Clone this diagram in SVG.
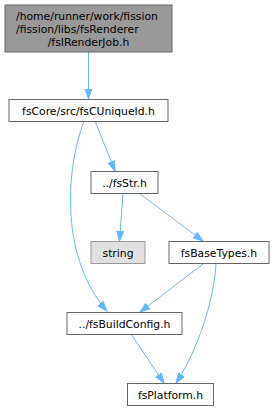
<svg xmlns="http://www.w3.org/2000/svg" width="275" height="411" viewBox="0 0 275 411">
<style>
.n rect{fill:#ffffff;stroke:#666666;stroke-width:1}
.n text{font-family:"DejaVu Sans",sans-serif;font-size:10.8px;fill:#000000;text-anchor:middle}
#n0 rect{fill:#999999;stroke:#666666}
#n3 rect{fill:#e0e0e0;stroke:#999999}
#edges path{fill:none;stroke:#63b8ff;stroke-width:1;marker-end:url(#a)}
</style>
<defs>
<marker id="a" markerWidth="11" markerHeight="9" refX="10" refY="4.5" orient="auto" markerUnits="userSpaceOnUse">
<path d="M0,1 L10,4.5 L0,8 z" fill="#63b8ff" stroke="#63b8ff" stroke-width="1"/>
</marker>
</defs>
<g id="edges">
<path d="M88.5,52 L88.5,99"/>
<path d="M95,121 L115,171"/>
<path d="M84,121 C64,175 62,260 107,311"/>
<path d="M123,193 L119.5,241"/>
<path d="M139,193 L203,241"/>
<path d="M203,264 L140,312"/>
<path d="M216,264 C214,300 198,350 176,383"/>
<path d="M131,334 L164,383"/>
</g>
<g id="n0" class="n">
<rect x="5" y="5" width="167" height="47"/>
<text x="16" y="20" style="text-anchor:start">/home/runner/work/fission</text>
<text x="16" y="33" style="text-anchor:start">/fission/libs/fsRenderer</text>
<text x="88.5" y="46">/fsIRenderJob.h</text>
</g>
<g id="n1" class="n">
<rect x="9" y="99.5" width="159" height="22"/>
<text x="88.5" y="114.5">fsCore/src/fsCUniqueId.h</text>
</g>
<g id="n2" class="n">
<rect x="91" y="171.5" width="67" height="22"/>
<text x="124.5" y="186.5">../fsStr.h</text>
</g>
<g id="n3" class="n">
<rect x="91" y="241.5" width="54" height="22"/>
<text x="118" y="256.5">string</text>
</g>
<g id="n4" class="n">
<rect x="169" y="241.5" width="100" height="22"/>
<text x="219" y="256.5">fsBaseTypes.h</text>
</g>
<g id="n5" class="n">
<rect x="67" y="312.5" width="115" height="22"/>
<text x="124.5" y="327.5">../fsBuildConfig.h</text>
</g>
<g id="n6" class="n">
<rect x="127.5" y="383.5" width="86" height="22"/>
<text x="170.5" y="398.5">fsPlatform.h</text>
</g>
</svg>
